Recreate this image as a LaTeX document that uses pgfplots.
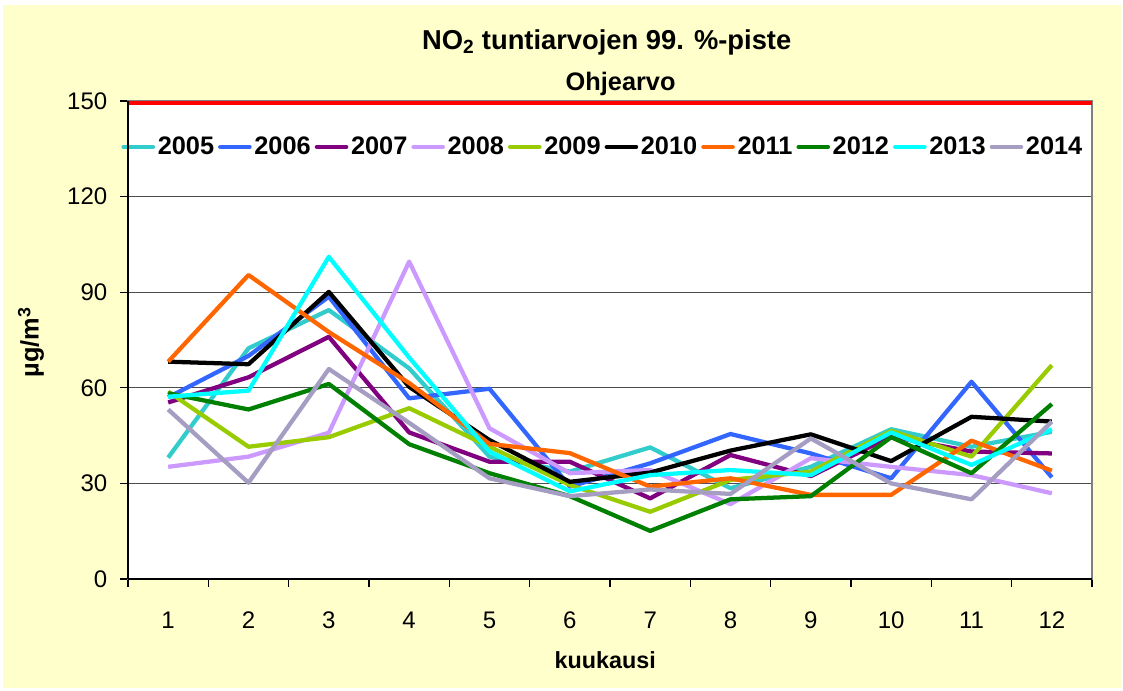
\documentclass[border=0pt]{standalone}
\usepackage{pgfplots}
\pgfplotsset{compat=1.18}
\usepackage{pgfplotstable}
\usepackage{fontspec}
\setmainfont{Liberation Sans}

\definecolor{bgyellow}{HTML}{FFFFCC}
\definecolor{c2005}{HTML}{33CCCC}
\definecolor{c2006}{HTML}{3366FF}
\definecolor{c2007}{HTML}{800080}
\definecolor{c2008}{HTML}{CC99FF}
\definecolor{c2009}{HTML}{99CC00}
\definecolor{c2010}{HTML}{000000}
\definecolor{c2011}{HTML}{FF6600}
\definecolor{c2012}{HTML}{008000}
\definecolor{c2013}{HTML}{00FFFF}
\definecolor{c2014}{HTML}{A59DC2}

% NO2 hourly 99th percentile by month, ug/m3
\pgfplotstableread{
m  y2005 y2006 y2007 y2008 y2009 y2010 y2011 y2012 y2013 y2014
1  38.1  57.0  55.4  35.2  58.8  68.2  68.2  58.3  57.2  53.2
2  72.4  70.0  63.3  38.4  41.5  67.4  95.4  53.2  59.1  30.2
3  84.4  88.6  76.0  45.9  44.5  90.1  77.5  61.2  101.1 65.9
4  66.1  56.7  46.0  99.6  53.6  60.3  61.5  42.3  69.5  49.0
5  38.4  59.7  36.8  47.3  41.5  43.6  42.4  33.2  40.0  31.6
6  33.7  29.0  36.8  33.2  29.5  30.5  39.5  26.0  27.5  26.0
7  41.3  36.3  25.3  34.2  21.1  33.4  29.0  15.1  32.6  28.1
8  28.5  45.5  38.9  23.5  31.1  40.3  31.6  25.0  34.2  26.7
9  35.2  39.4  32.3  37.9  33.7  45.4  26.4  26.0  32.6  44.1
10 47.0  31.6  44.7  35.2  46.5  37.0  26.4  44.5  46.0  30.0
11 41.5  61.9  40.0  32.6  38.4  50.9  43.4  33.2  35.8  25.0
12 46.2  31.9  39.4  26.9  67.1  49.4  34.0  54.9  47.0  49.4
}\datatable

\begin{document}
\begin{tikzpicture}
\fill[white] (0,0) rectangle (842.25pt,517.5pt);
\fill[bgyellow] (2pt,1.5pt) rectangle (840.5pt,514pt);
\begin{axis}[
    at={(96pt,83.25pt)}, anchor=south west,
    scale only axis, width=723pt, height=358.5pt,
    xmin=0.5, xmax=12.5, ymin=0, ymax=150,
    axis background/.style={fill=white},
    axis line style={draw=black!50, line width=0.8pt},
    xtick={1,...,12},
    minor xtick={0.5,1.5,...,12.5},
    major x tick style={draw=none},
    minor x tick style={black, line width=0.8pt},
    minor tick length=6pt,
    ytick={0,30,...,150},
    major tick length=6pt,
    y tick style={black, line width=0.8pt},
    tick align=outside,
    xtick pos=bottom, ytick pos=left,
    ymajorgrids,
    grid style={black!70, line width=0.9pt},
    /pgf/number format/assume math mode=true,
    tick label style={font=\fontsize{18}{20}\selectfont},
    xticklabel style={yshift=-15pt},
    yticklabel style={xshift=-6pt},
    xlabel={\textbf{kuukausi}},
    xlabel style={at={(rel axis cs:0.495,-0.17)}, anchor=center,
      font=\fontsize{17.5}{20}\selectfont},
    ylabel={\textbf{µg/m\textsuperscript{3}}},
    ylabel style={at={(rel axis cs:-0.1006,0.495)}, anchor=center, rotate=0,
      font=\fontsize{19}{20}\selectfont},
    legend columns=10,
    legend style={draw=none, fill=none, at={(0.493,0.904)}, anchor=center,
      font=\bfseries\fontsize{19}{20}\selectfont,
      /tikz/every even column/.append style={column sep=1pt},
      inner sep=0pt},
    legend image code/.code={\draw[#1, line width=3.2pt, line cap=round] (0pt,0pt) -- (22pt,0pt);},
    every axis plot/.append style={line width=3.2pt, line join=round, mark=none},
    clip=false,
]
\addplot[draw=red, line width=3pt, forget plot] coordinates {(0.5,149.3) (12.5,149.3)};
\addplot[c2005] table[x=m, y=y2005] {\datatable}; \addlegendentry{2005}
\addplot[c2006] table[x=m, y=y2006] {\datatable}; \addlegendentry{2006}
\addplot[c2007] table[x=m, y=y2007] {\datatable}; \addlegendentry{2007}
\addplot[c2008] table[x=m, y=y2008] {\datatable}; \addlegendentry{2008}
\addplot[c2009] table[x=m, y=y2009] {\datatable}; \addlegendentry{2009}
\addplot[c2010] table[x=m, y=y2010] {\datatable}; \addlegendentry{2010}
\addplot[c2011] table[x=m, y=y2011] {\datatable}; \addlegendentry{2011}
\addplot[c2012] table[x=m, y=y2012] {\datatable}; \addlegendentry{2012}
\addplot[c2013] table[x=m, y=y2013] {\datatable}; \addlegendentry{2013}
\addplot[c2014] table[x=m, y=y2014] {\datatable}; \addlegendentry{2014}
\node[font=\bfseries\fontsize{19}{20}\selectfont] at (rel axis cs:0.511,1.035) {Ohjearvo};
\end{axis}
\draw[black, line width=0.8pt] (96pt,83.25pt) -- (96pt,441.75pt);
\draw[black, line width=0.8pt] (96pt,83.25pt) -- (819pt,83.25pt);
\node[font=\bfseries\fontsize{20.5}{22}\selectfont] at (455pt,486pt) {NO\textsubscript{2} tuntiarvojen 99. \%-piste};
\end{tikzpicture}
\end{document}
